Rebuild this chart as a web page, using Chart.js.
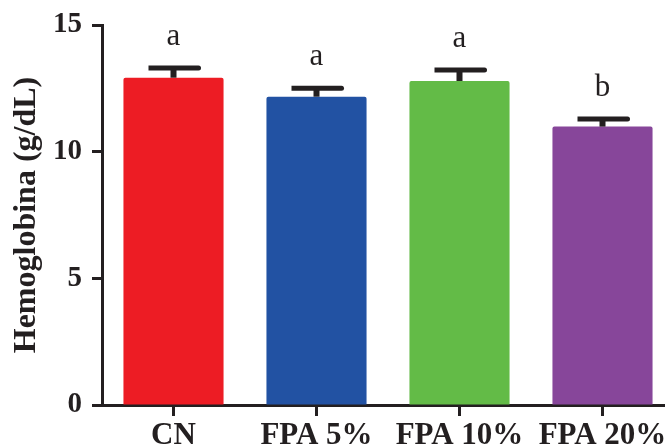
<!DOCTYPE html>
<html>
<head>
<meta charset="utf-8">
<script src="https://cdn.jsdelivr.net/npm/chart.js@4/dist/chart.umd.min.js"></script>
<style>
  html, body { margin: 0; padding: 0; background: #fff; overflow: hidden; width: 665px; height: 448px; }
  canvas { display: block; }
</style>
</head>
<body>
<canvas id="c" width="674" height="448"></canvas>
<script>
// Hemoglobin by diet group: mean, standard error and significance letters
const categories = ['CN', 'FPA 5%', 'FPA 10%', 'FPA 20%'];
const hemoglobin = [12.92, 12.17, 12.79, 10.99];
const stdError = [0.38, 0.33, 0.43, 0.30];
const sigLetters = ['a', 'a', 'a', 'b'];
const yTicks = [0, 5, 10, 15];

const barColors = ['#ED1C24', '#2252A3', '#63BB47', '#87469A'];
const ink = '#231F20';
const serif = '"Liberation Serif", "Times New Roman", serif';

// Error bars (upper whisker only) plus the group letters above them
const errorBarPlugin = {
  id: 'errorBars',
  afterDatasetsDraw(chart) {
    const ctx = chart.ctx;
    const meta = chart.getDatasetMeta(0);
    const y = chart.scales.y;
    ctx.save();
    meta.data.forEach((bar, i) => {
      const top = y.getPixelForValue(hemoglobin[i] + stdError[i]);
      const base = bar.y;
      const cx = bar.x;
      const half = 25;
      ctx.fillStyle = ink;
      // stem
      ctx.fillRect(cx - 3, top, 6, base - top);
      // cap with rounded right end
      ctx.beginPath();
      ctx.moveTo(cx - half, top - 2.5);
      ctx.lineTo(cx + half, top - 2.5);
      ctx.arc(cx + half, top, 2.5, -Math.PI / 2, Math.PI / 2);
      ctx.lineTo(cx - half, top + 2.5);
      ctx.closePath();
      ctx.fill();
      // significance letter
      ctx.font = '31px ' + serif;
      ctx.textAlign = 'center';
      ctx.textBaseline = 'alphabetic';
      ctx.fillText(sigLetters[i], cx, top - 23);
    });
    ctx.restore();
  }
};

new Chart(document.getElementById('c'), {
  type: 'bar',
  data: {
    labels: categories,
    datasets: [{
      data: hemoglobin,
      backgroundColor: barColors,
      borderWidth: 0,
      borderRadius: 2,
      borderSkipped: 'bottom',
      barPercentage: 0.7,
      categoryPercentage: 1.0
    }]
  },
  options: {
    responsive: false,
    animation: false,
    devicePixelRatio: 1,
    layout: { padding: { top: 25, right: 0, bottom: 0, left: 0 } },
    plugins: { legend: { display: false }, tooltip: { enabled: false } },
    scales: {
      x: {
        offset: true,
        afterFit(scale) { scale.height = 43; },
        grid: {
          offset: false,
          drawOnChartArea: false,
          drawTicks: true,
          tickLength: 11,
          tickWidth: 3,
          tickColor: ink
        },
        border: { display: true, color: ink, width: 3 },
        ticks: {
          color: ink,
          padding: 4,
          maxRotation: 0,
          autoSkip: false,
          font: { family: serif, size: 31, weight: 'bold', lineHeight: 1.0 }
        }
      },
      y: {
        min: 0,
        max: 15,
        afterFit(scale) {
          scale.width = 102;
          scale.paddingTop = 0;
          scale.paddingBottom = 0;
        },
        afterBuildTicks(scale) { scale.ticks = yTicks.map(v => ({ value: v })); },
        grid: {
          drawOnChartArea: false,
          drawTicks: true,
          tickLength: 10,
          tickWidth: 3,
          tickColor: ink
        },
        border: { display: true, color: ink, width: 3 },
        ticks: {
          color: ink,
          padding: 10,
          font: { family: serif, size: 29, weight: 'bold' }
        },
        title: {
          display: true,
          text: 'Hemoglobina (g/dL)',
          color: ink,
          padding: { top: 8, bottom: 0 },
          font: { family: serif, size: 32, weight: 'bold' }
        }
      }
    }
  },
  plugins: [errorBarPlugin]
});
</script>
</body>
</html>
